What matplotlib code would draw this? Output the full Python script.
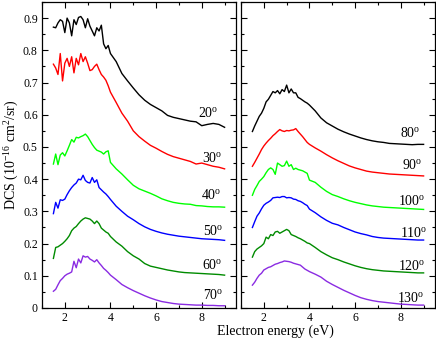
import matplotlib
matplotlib.use('Agg')
import matplotlib.pyplot as plt
from matplotlib.ticker import MultipleLocator

plt.rcParams['font.family'] = ['Liberation Serif', 'DejaVu Serif']
plt.rcParams['mathtext.fontset'] = 'custom'
plt.rcParams['mathtext.rm'] = 'Liberation Serif'
plt.rcParams['mathtext.it'] = 'Liberation Serif:italic'

# electron energy grid (eV)
energy = [1.5, 1.6, 1.7, 1.8, 1.9, 2.0, 2.1, 2.2, 2.3, 2.4, 2.5, 2.6, 2.7,
          2.8, 2.9, 3.0, 3.1, 3.2, 3.3, 3.4, 3.5, 3.6, 3.7, 3.8, 3.9, 4.0,
          4.25, 4.5, 4.75, 5.0, 5.25, 5.5, 5.75, 6.0, 6.25, 6.5, 6.75, 7.0,
          7.25, 7.5, 7.75, 8.0, 8.25, 8.5, 8.75, 9.0]

# left panel (values include the vertical offsets of the original figure)
dcs_20 = [0.872, 0.870, 0.885, 0.895, 0.890, 0.855, 0.900, 0.885, 0.845, 0.895,
          0.880, 0.902, 0.905, 0.895, 0.870, 0.898, 0.875, 0.860, 0.845, 0.870,
          0.860, 0.878, 0.820, 0.805, 0.815, 0.790,
          0.765, 0.728, 0.705, 0.683, 0.662, 0.645, 0.632, 0.622, 0.612, 0.598,
          0.592, 0.588, 0.584, 0.580, 0.578, 0.566, 0.570, 0.573, 0.570, 0.561]
dcs_30 = [0.757, 0.745, 0.725, 0.790, 0.705, 0.760, 0.775, 0.750, 0.780, 0.730,
          0.775, 0.755, 0.790, 0.765, 0.780, 0.760, 0.737, 0.740, 0.750, 0.757,
          0.740, 0.725, 0.717, 0.707, 0.690, 0.670,
          0.638, 0.605, 0.580, 0.550, 0.532, 0.518, 0.505, 0.496, 0.486, 0.477,
          0.470, 0.465, 0.460, 0.455, 0.447, 0.450, 0.445, 0.440, 0.437, 0.432]
dcs_40 = [0.447, 0.478, 0.445, 0.475, 0.482, 0.472, 0.488, 0.505, 0.523, 0.515,
          0.530, 0.528, 0.532, 0.535, 0.540, 0.532, 0.520, 0.508, 0.498, 0.490,
          0.487, 0.484, 0.478, 0.485, 0.488, 0.452,
          0.432, 0.416, 0.398, 0.381, 0.370, 0.363, 0.356, 0.348, 0.339, 0.333,
          0.328, 0.325, 0.323, 0.322, 0.318, 0.317, 0.315, 0.314, 0.314, 0.313]
dcs_50 = [0.293, 0.328, 0.310, 0.336, 0.334, 0.338, 0.352, 0.364, 0.374, 0.382,
          0.388, 0.400, 0.398, 0.412, 0.396, 0.390, 0.388, 0.405, 0.390, 0.398,
          0.374, 0.367, 0.360, 0.354, 0.346, 0.337,
          0.316, 0.300, 0.285, 0.274, 0.262, 0.252, 0.244, 0.238, 0.233, 0.229,
          0.226, 0.223, 0.221, 0.219, 0.217, 0.215, 0.214, 0.213, 0.212, 0.210]
dcs_60 = [0.154, 0.188, 0.190, 0.195, 0.200, 0.207, 0.215, 0.225, 0.240, 0.248,
          0.253, 0.262, 0.270, 0.276, 0.280, 0.278, 0.276, 0.270, 0.262, 0.270,
          0.262, 0.248, 0.242, 0.236, 0.232, 0.222,
          0.205, 0.192, 0.175, 0.162, 0.152, 0.138, 0.130, 0.126, 0.122, 0.118,
          0.115, 0.112, 0.110, 0.109, 0.108, 0.107, 0.106, 0.105, 0.104, 0.102]
dcs_70 = [0.052, 0.058, 0.072, 0.085, 0.092, 0.100, 0.105, 0.108, 0.112, 0.145,
          0.125, 0.152, 0.140, 0.162, 0.158, 0.160, 0.152, 0.148, 0.143, 0.150,
          0.140, 0.132, 0.123, 0.117, 0.110, 0.102,
          0.088, 0.073, 0.063, 0.054, 0.046, 0.038, 0.031, 0.025, 0.020, 0.017,
          0.014, 0.012, 0.011, 0.010, 0.009, 0.009, 0.008, 0.008, 0.007, 0.007]

# right panel
dcs_80 = [0.548, 0.565, 0.580, 0.595, 0.605, 0.620, 0.640, 0.648, 0.660, 0.672,
          0.668, 0.675, 0.665, 0.678, 0.672, 0.692, 0.668, 0.680, 0.668, 0.668,
          0.654, 0.650, 0.645, 0.640, 0.636, 0.630,
          0.612, 0.590, 0.575, 0.565, 0.555, 0.547, 0.540, 0.534, 0.528, 0.523,
          0.519, 0.516, 0.514, 0.511, 0.510, 0.509, 0.508, 0.507, 0.508, 0.508]
dcs_90 = [0.440, 0.452, 0.465, 0.478, 0.492, 0.503, 0.512, 0.520, 0.527, 0.535,
          0.541, 0.548, 0.554, 0.550, 0.548, 0.551, 0.550, 0.552, 0.553, 0.557,
          0.548, 0.540, 0.532, 0.523, 0.514, 0.508,
          0.497, 0.487, 0.476, 0.466, 0.457, 0.449, 0.441, 0.435, 0.430, 0.425,
          0.422, 0.420, 0.418, 0.416, 0.415, 0.414, 0.413, 0.412, 0.411, 0.410]
dcs_100 = [0.350, 0.368, 0.380, 0.393, 0.400, 0.408, 0.420, 0.430, 0.435, 0.430,
           0.415, 0.450, 0.445, 0.440, 0.442, 0.456, 0.440, 0.445, 0.430, 0.434,
           0.430, 0.428, 0.426, 0.422, 0.418, 0.397,
           0.390, 0.375, 0.362, 0.352, 0.346, 0.339, 0.333, 0.328, 0.324, 0.320,
           0.317, 0.315, 0.313, 0.312, 0.311, 0.310, 0.309, 0.308, 0.307, 0.306]
dcs_110 = [0.250, 0.268, 0.285, 0.295, 0.308, 0.319, 0.325, 0.329, 0.334, 0.342,
           0.343, 0.344, 0.343, 0.346, 0.346, 0.342, 0.343, 0.342, 0.338, 0.337,
           0.333, 0.331, 0.327, 0.322, 0.318, 0.307,
           0.296, 0.283, 0.272, 0.263, 0.258, 0.250, 0.243, 0.236, 0.231, 0.227,
           0.222, 0.219, 0.217, 0.216, 0.215, 0.214, 0.213, 0.212, 0.211, 0.211]
dcs_120 = [0.158, 0.175, 0.183, 0.188, 0.193, 0.200, 0.220, 0.215, 0.228, 0.225,
           0.236, 0.238, 0.232, 0.236, 0.240, 0.244, 0.240, 0.228, 0.225, 0.222,
           0.218, 0.215, 0.211, 0.207, 0.202, 0.200,
           0.188, 0.175, 0.165, 0.156, 0.150, 0.143, 0.137, 0.131, 0.126, 0.122,
           0.119, 0.117, 0.115, 0.114, 0.113, 0.112, 0.111, 0.110, 0.109, 0.109]
dcs_130 = [0.071, 0.080, 0.092, 0.102, 0.108, 0.118, 0.122, 0.126, 0.128, 0.132,
           0.136, 0.138, 0.141, 0.143, 0.146, 0.145, 0.144, 0.142, 0.139, 0.137,
           0.135, 0.133, 0.127, 0.121, 0.117, 0.113,
           0.105, 0.096, 0.083, 0.073, 0.064, 0.055, 0.047, 0.039, 0.032, 0.027,
           0.023, 0.020, 0.018, 0.016, 0.014, 0.012, 0.011, 0.010, 0.009, 0.009]

left_angles = [20, 30, 40, 50, 60, 70]
right_angles = [80, 90, 100, 110, 120, 130]
left_series = [dcs_20, dcs_30, dcs_40, dcs_50, dcs_60, dcs_70]
right_series = [dcs_80, dcs_90, dcs_100, dcs_110, dcs_120, dcs_130]

colors = ['black', '#ff0000', '#00ff00', '#0000ff', '#008b00', '#8a2be2']
# (x, y) of angle labels, data coordinates
left_label_pos = [(7.84, 0.592), (7.99, 0.453), (7.95, 0.337),
                  (8.05, 0.226), (7.99, 0.120), (8.05, 0.027)]
right_label_pos = [(7.96, 0.530), (8.04, 0.432), (7.88, 0.321),
                   (7.97, 0.221), (7.88, 0.118), (7.82, 0.020)]


def style_axes(ax, show_ylabels):
  ax.set_xlim(1, 9.5)
  ax.set_ylim(0, 0.95)
  ax.xaxis.set_major_locator(MultipleLocator(2))
  ax.xaxis.set_minor_locator(MultipleLocator(1))
  ax.yaxis.set_major_locator(MultipleLocator(0.1))
  ax.yaxis.set_minor_locator(MultipleLocator(0.05))
  ax.tick_params(which='both', direction='in', top=True, right=True,
                 labelsize=8.5, pad=3)
  ax.tick_params(which='major', length=4, width=0.8)
  ax.tick_params(which='minor', length=2.5, width=0.8)
  ax.set_yticks([0, 0.1, 0.2, 0.3, 0.4, 0.5, 0.6, 0.7, 0.8, 0.9])
  ax.set_yticklabels(['0', '0.1', '0.2', '0.3', '0.4', '0.5', '0.6',
                      '0.7', '0.8', '0.9'])
  if not show_ylabels:
    ax.tick_params(labelleft=False)
  for sp in ax.spines.values():
    sp.set_linewidth(0.9)


fig = plt.figure(figsize=(4.36, 3.42), dpi=100)
ax1 = fig.add_axes([42 / 436, 1 - 308 / 342, 194 / 436, 306 / 342])
ax2 = fig.add_axes([241 / 436, 1 - 308 / 342, 194 / 436, 306 / 342])

for ax, angles, series, label_pos in [(ax1, left_angles, left_series, left_label_pos),
                                      (ax2, right_angles, right_series, right_label_pos)]:
  for ang, vals, col, (tx, ty) in zip(angles, series, colors, label_pos):
    ax.plot(energy, vals, color=col, linewidth=1.0)
    ax.text(tx, ty, str(ang) + r'$^{\rm o}$', fontsize=10, ha='left', va='baseline')

style_axes(ax1, True)
style_axes(ax2, False)

fig.text(275 / 436, 1 - 331 / 342, 'Electron energy (eV)', fontsize=10,
         ha='center', va='center')
fig.text(12 / 436, 1 - 155 / 342, r'DCS (10$^{-16}$ cm$^{2}$/sr)', fontsize=10,
         ha='center', va='center', rotation=90)

fig.savefig('out.png', dpi=100)
